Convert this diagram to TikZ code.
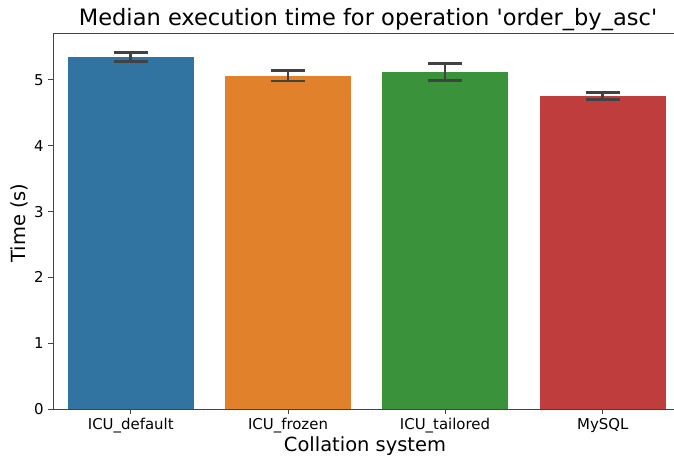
\documentclass[tikz,border=0pt]{standalone}
\usepackage{fontspec}
\setmainfont{DejaVu Sans}
\definecolor{sbblue}{HTML}{3274A1}
\definecolor{sborange}{HTML}{E1812C}
\definecolor{sbgreen}{HTML}{3A923A}
\definecolor{sbred}{HTML}{C03D3E}
\definecolor{errgray}{HTML}{424242}
\definecolor{spinegray}{HTML}{444444}
\begin{document}
\begin{tikzpicture}[x=0.75pt,y=-0.75pt,
  bar/.style={draw=none},
  errbar/.style={draw=errgray,line width=2.2pt},
  spine/.style={draw=spinegray,line width=0.75pt},
  ticklab/.style={font=\fontsize{11.2}{13}\selectfont,inner sep=0pt},
  axlab/.style={font=\fontsize{14.6}{17}\selectfont,inner sep=0pt},
  titlelab/.style={font=\fontsize{16.9}{19}\selectfont,inner sep=0pt}]
\useasboundingbox (0,0) rectangle (674,460);
\def\yz{409}
\def\ys{65.8}
% bars
\fill[sbblue]   (68,\yz) rectangle (193.5,{\yz-\ys*5.354});
\fill[sborange] (225,\yz) rectangle (351,{\yz-\ys*5.065});
\fill[sbgreen]  (382,\yz) rectangle (508,{\yz-\ys*5.12});
\fill[sbred]    (540,\yz) rectangle (665.5,{\yz-\ys*4.76});
% error bars
\foreach \cx/\lo/\hi in {130.75/5.28/5.42, 288/4.985/5.14, 445/4.99/5.25, 602.75/4.71/4.81}{
  \draw[errbar] (\cx,{\yz-\ys*\lo}) -- (\cx,{\yz-\ys*\hi});
  \draw[errbar] (\cx-17,{\yz-\ys*\lo}) -- (\cx+17,{\yz-\ys*\lo});
  \draw[errbar] (\cx-17,{\yz-\ys*\hi}) -- (\cx+17,{\yz-\ys*\hi});
}
% spines
\coordinate (o) at (53,\yz);
\coordinate (tl) at (53,34);
\coordinate (tr) at (674,34);
\coordinate (br) at (674,\yz);
\draw[spine] (tr) -- (tl) -- (o) -- (br);
% y ticks
\foreach \v in {0,...,5}{
  \draw[spine] (48,{\yz-\ys*\v}) -- (53,{\yz-\ys*\v});
  \node[ticklab,anchor=east] (yt\v) at (44,{\yz-\ys*\v}) {\v};
}
% x ticks
\foreach \cx/\lab/\nm in {130.75/ICU\_default/a, 288/ICU\_frozen/b, 445/ICU\_tailored/c, 602.75/MySQL/d}{
  \draw[spine] (\cx,\yz) -- (\cx,414);
  \node[ticklab,anchor=north] (xt\nm) at (\cx,418) {\lab};
}
\node[axlab] (xl) at (365,446) {Collation system};
\node[axlab,rotate=90] (yl) at (19,223) {Time (s)};
\node[titlelab] (title) at (368,20) {Median execution time for operation \textquotesingle order\_by\_asc\textquotesingle};
\end{tikzpicture}
\end{document}
